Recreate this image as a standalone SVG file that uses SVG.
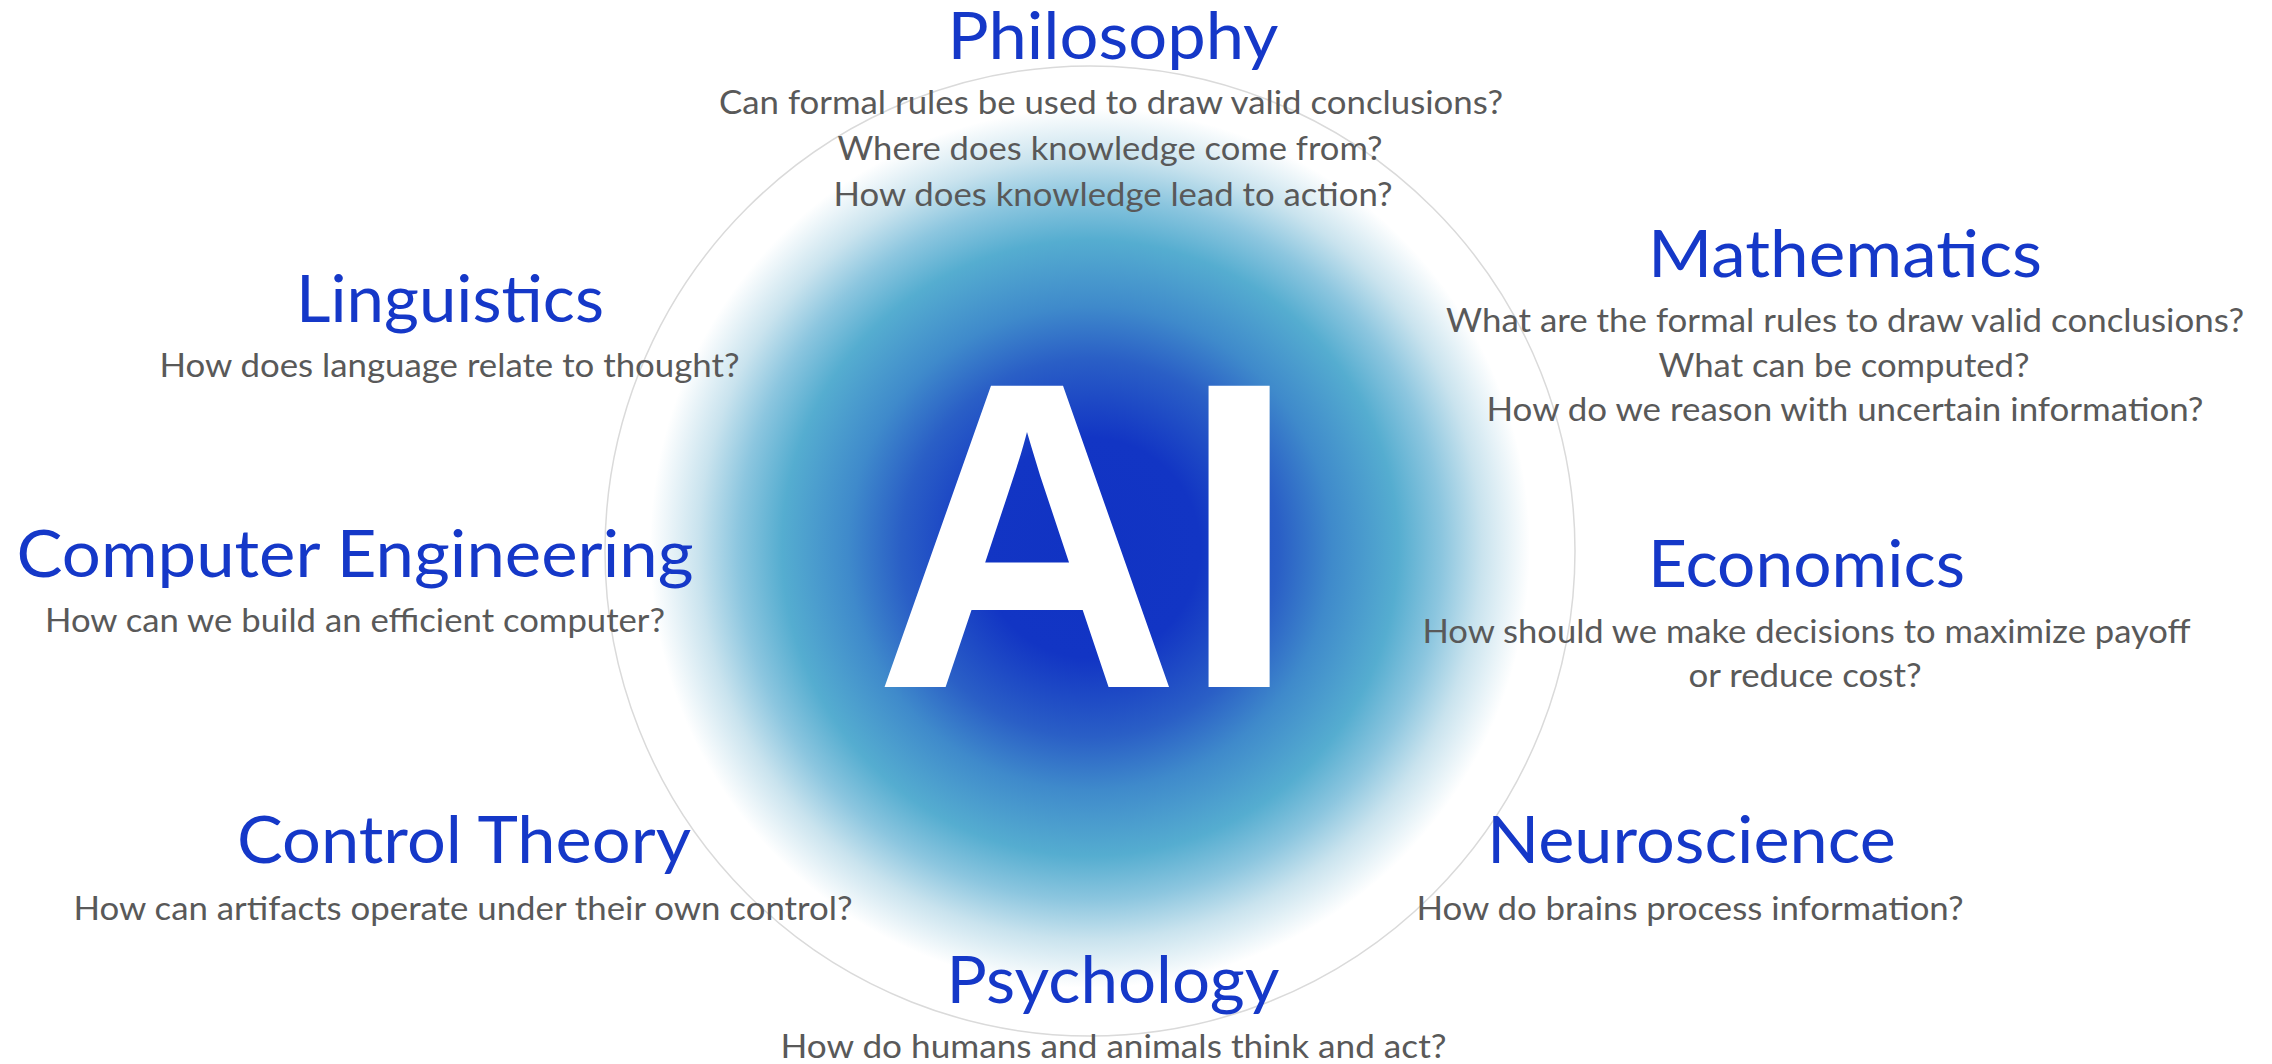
<svg xmlns="http://www.w3.org/2000/svg" width="2272" height="1064" viewBox="0 0 2272 1064">
  <style>
    .title { font-family: Lato, "Liberation Sans", sans-serif; font-size: 65px; fill: #1538C8; text-anchor: middle; }
    .q { font-family: Lato, "Liberation Sans", sans-serif; font-size: 33.5px; fill: #595959; text-anchor: middle; }
    .ai { font-family: "Liberation Sans", Arial, sans-serif; font-weight: bold; font-size: 438px; fill: #FFFFFF; }
  </style>
  <defs>
    <radialGradient id="glow" gradientUnits="userSpaceOnUse" cx="1090" cy="548" r="440">
      <stop offset="0" stop-color="#1133C3"/>
      <stop offset="0.25" stop-color="#1235C4"/>
      <stop offset="0.43" stop-color="#2A5FC6"/>
      <stop offset="0.55" stop-color="#3F8ACB"/>
      <stop offset="0.70" stop-color="#55ADD0"/>
      <stop offset="0.80" stop-color="#8CC6DF"/>
      <stop offset="0.89" stop-color="#C9E3EE"/>
      <stop offset="1" stop-color="#FFFFFF" stop-opacity="1"/>
    </radialGradient>
  </defs>
  <rect x="0" y="0" width="2272" height="1064" fill="#FFFFFF"/>

  <g id="center">
    <circle cx="1090" cy="548" r="440" fill="url(#glow)"/>
    <circle cx="1090" cy="551" r="485" fill="none" stroke="#DADADA" stroke-width="1.5"/>
    <text class="ai" x="874" y="687" textLength="424" lengthAdjust="spacingAndGlyphs">AI</text>
  </g>

  <g id="philosophy">
    <text class="title" x="1113" y="59" textLength="331" lengthAdjust="spacingAndGlyphs">Philosophy</text>
    <text class="q" x="1111" y="114" textLength="784" lengthAdjust="spacingAndGlyphs">Can formal rules be used to draw valid conclusions?</text>
    <text class="q" x="1110" y="160" textLength="545" lengthAdjust="spacingAndGlyphs">Where does knowledge come from?</text>
    <text class="q" x="1113" y="206" textLength="559" lengthAdjust="spacingAndGlyphs">How does knowledge lead to action?</text>
  </g>

  <g id="linguistics">
    <text class="title" x="450" y="322" textLength="308" lengthAdjust="spacingAndGlyphs">Linguistics</text>
    <text class="q" x="449.5" y="377" textLength="580" lengthAdjust="spacingAndGlyphs">How does language relate to thought?</text>
  </g>

  <g id="computer-engineering">
    <text class="title" x="355" y="577" textLength="677" lengthAdjust="spacingAndGlyphs">Computer Engineering</text>
    <text class="q" x="355" y="632" textLength="620" lengthAdjust="spacingAndGlyphs">How can we build an efficient computer?</text>
  </g>

  <g id="control-theory">
    <text class="title" x="464" y="863" textLength="454" lengthAdjust="spacingAndGlyphs">Control Theory</text>
    <text class="q" x="463" y="920" textLength="779" lengthAdjust="spacingAndGlyphs">How can artifacts operate under their own control?</text>
  </g>

  <g id="psychology">
    <text class="title" x="1113" y="1003" textLength="333" lengthAdjust="spacingAndGlyphs">Psychology</text>
    <text class="q" x="1113.5" y="1058" textLength="666" lengthAdjust="spacingAndGlyphs">How do humans and animals think and act?</text>
  </g>

  <g id="mathematics">
    <text class="title" x="1845" y="277" textLength="394" lengthAdjust="spacingAndGlyphs">Mathematics</text>
    <text class="q" x="1845" y="332" textLength="798" lengthAdjust="spacingAndGlyphs">What are the formal rules to draw valid conclusions?</text>
    <text class="q" x="1844" y="377" textLength="371" lengthAdjust="spacingAndGlyphs">What can be computed?</text>
    <text class="q" x="1845" y="421" textLength="717" lengthAdjust="spacingAndGlyphs">How do we reason with uncertain information?</text>
  </g>

  <g id="economics">
    <text class="title" x="1806.5" y="587" textLength="317" lengthAdjust="spacingAndGlyphs">Economics</text>
    <text class="q" x="1806.5" y="643" textLength="768" lengthAdjust="spacingAndGlyphs">How should we make decisions to maximize payoff</text>
    <text class="q" x="1805" y="687" textLength="233" lengthAdjust="spacingAndGlyphs">or reduce cost?</text>
  </g>

  <g id="neuroscience">
    <text class="title" x="1691.5" y="863" textLength="409" lengthAdjust="spacingAndGlyphs">Neuroscience</text>
    <text class="q" x="1690" y="920" textLength="547" lengthAdjust="spacingAndGlyphs">How do brains process information?</text>
  </g>
</svg>
